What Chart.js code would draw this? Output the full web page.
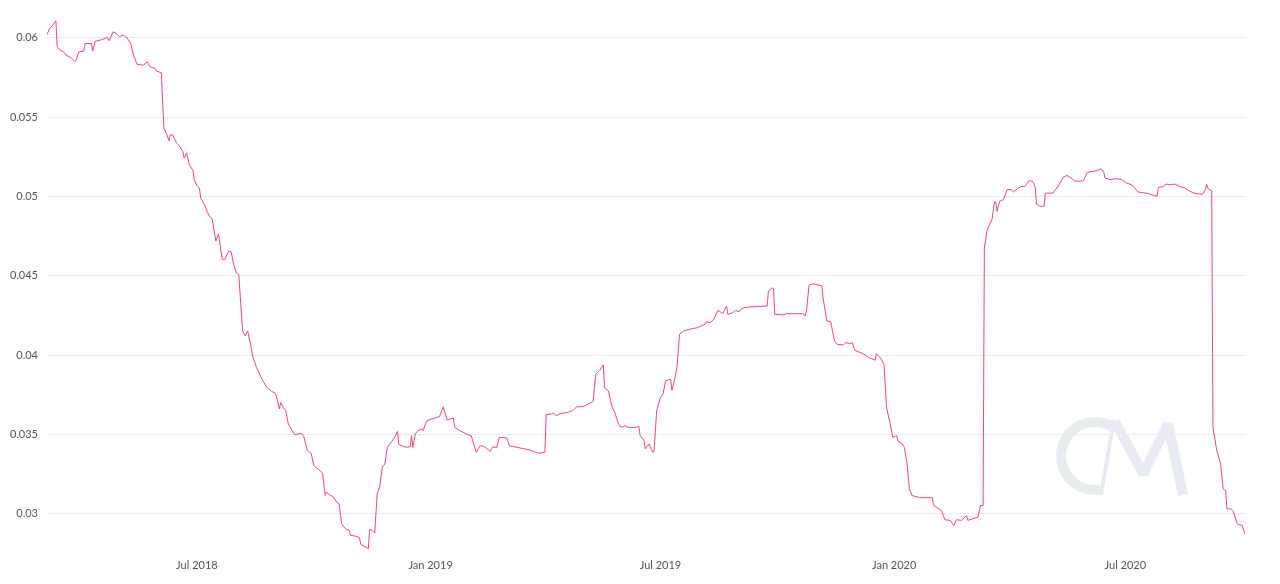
<!DOCTYPE html>
<html>
<head>
<meta charset="utf-8">
<script src="https://cdn.jsdelivr.net/npm/chart.js@4.4.1/dist/chart.umd.min.js"></script>
<style>
  html, body { margin: 0; padding: 0; background: #fff; }
  #wrap { width: 1280px; height: 584px; }
</style>
</head>
<body>
<div id="wrap"><canvas id="grafico" width="1280" height="584"></canvas></div>
<script>
// days counted from START_DATE
const START_DATE = "2018-03-05";
const dayOffsets = [
  0, 2, 4, 7, 8, 10, 13, 15, 19, 22, 23, 25, 29, 30, 35, 36, 38, 42, 46, 47,
  49, 52, 55, 57, 60, 63, 66, 68, 71, 76, 79, 81, 85, 86, 90, 92, 94, 96, 97, 99,
  102, 104, 107, 108, 110, 112, 115, 116, 118, 120, 121, 124, 126, 128, 130, 133, 135, 138, 140, 143,
  145, 147, 149, 151, 154, 156, 158, 160, 162, 165, 168, 170, 173, 177, 180, 183, 184, 186, 188, 190,
  193, 195, 200, 202, 205, 208, 210, 214, 217, 219, 220, 223, 225, 228, 230, 232, 235, 238, 239, 244,
  246, 247, 253, 254, 256, 258, 260, 262, 264, 266, 268, 271, 274, 276, 277, 281, 283, 286, 287, 288,
  290, 292, 295, 296, 299, 303, 309, 312, 315, 320, 321, 325, 330, 334, 338, 341, 344, 349, 351, 354,
  356, 362, 364, 370, 380, 387, 392, 393, 399, 401, 404, 409, 414, 417, 422, 426, 430, 432, 435, 438,
  439, 442, 445, 447, 450, 452, 455, 458, 462, 466, 467, 470, 471, 474, 477, 478, 480, 483, 485, 487,
  489, 491, 492, 494, 496, 498, 501, 506, 512, 515, 518, 519, 522, 525, 528, 530, 532, 535, 536, 540,
  542, 545, 547, 553, 567, 568, 571, 572, 573, 580, 582, 588, 595, 597, 598, 600, 603, 610, 611, 614,
  617, 620, 622, 627, 629, 632, 634, 636, 643, 648, 652, 653, 656, 659, 661, 663, 666, 669, 670, 673,
  675, 677, 679, 681, 687, 697, 698, 702, 704, 707, 711, 714, 716, 720, 724, 725, 729, 733, 735, 737,
  738, 740, 742, 744, 746, 747, 748, 750, 753, 756, 759, 761, 764, 767, 770, 773, 776, 778, 779, 782,
  785, 786, 792, 794, 796, 800, 803, 807, 809, 812, 816, 819, 824, 828, 830, 832, 833, 837, 842, 846,
  850, 854, 859, 866, 874, 875, 879, 881, 884, 888, 892, 896, 899, 903, 907, 910, 912, 913, 914, 917,
  918, 921, 924, 926, 928, 929, 932, 934, 937, 941, 943
];
const values = [
  0.06021, 0.06058, 0.06075, 0.06107, 0.05943, 0.05923, 0.05912, 0.05891, 0.05874, 0.05849, 0.0586, 0.05912, 0.05916, 0.05964, 0.05964, 0.05916, 0.05979, 0.05986, 0.05996, 0.06006,
  0.05981, 0.06038, 0.06025, 0.06008, 0.06017, 0.06, 0.05962, 0.05891, 0.05832, 0.05828, 0.05849, 0.05818, 0.05807, 0.05791, 0.0578, 0.0543, 0.05398, 0.05351, 0.05388, 0.05388,
  0.05336, 0.05321, 0.05283, 0.05241, 0.05273, 0.052, 0.05162, 0.05106, 0.0507, 0.05053, 0.0499, 0.04948, 0.04906, 0.04874, 0.0486, 0.04718, 0.04764, 0.04603, 0.04603, 0.04655,
  0.04651, 0.04571, 0.04519, 0.04508, 0.04152, 0.04121, 0.04152, 0.04079, 0.03989, 0.03921, 0.03869, 0.03838, 0.03796, 0.03771, 0.03758, 0.0366, 0.03701, 0.0367, 0.03649, 0.03566,
  0.03524, 0.03498, 0.03507, 0.03492, 0.03398, 0.03381, 0.03304, 0.03277, 0.03256, 0.03116, 0.03136, 0.03116, 0.03109, 0.03073, 0.03063, 0.02937, 0.02906, 0.02895, 0.02864, 0.02857,
  0.02849, 0.02807, 0.0278, 0.029, 0.02895, 0.02878, 0.03126, 0.03172, 0.03293, 0.03314, 0.03419, 0.0345, 0.03486, 0.03519, 0.03436, 0.03423, 0.03419, 0.03423, 0.03492, 0.03419,
  0.03503, 0.03524, 0.03534, 0.03524, 0.03586, 0.03597, 0.03612, 0.03674, 0.03591, 0.03603, 0.03544, 0.03524, 0.03503, 0.03492, 0.03387, 0.03429, 0.03425, 0.03393, 0.03423, 0.03415,
  0.03481, 0.03478, 0.03427, 0.03419, 0.03402, 0.03381, 0.03387, 0.03624, 0.03632, 0.03618, 0.03632, 0.03637, 0.03649, 0.03674, 0.03674, 0.03691, 0.03708, 0.0388, 0.03901, 0.03938,
  0.03792, 0.03775, 0.0367, 0.03639, 0.03566, 0.03544, 0.03555, 0.03544, 0.03544, 0.03549, 0.03492, 0.03461, 0.03408, 0.0344, 0.03387, 0.03398, 0.03649, 0.03733, 0.03754, 0.03838,
  0.03842, 0.03848, 0.03778, 0.0384, 0.03921, 0.04131, 0.04152, 0.04163, 0.04173, 0.04184, 0.04194, 0.04211, 0.04204, 0.04226, 0.04282, 0.04273, 0.04261, 0.04309, 0.04257, 0.04267,
  0.04282, 0.04273, 0.04295, 0.04303, 0.04309, 0.04404, 0.04424, 0.0442, 0.04257, 0.04253, 0.04261, 0.04261, 0.04261, 0.04246, 0.04282, 0.04441, 0.04449, 0.04437, 0.04361, 0.04215,
  0.04211, 0.04089, 0.04068, 0.04064, 0.04079, 0.04072, 0.04079, 0.04031, 0.04006, 0.03981, 0.03968, 0.04009, 0.03984, 0.03943, 0.0367, 0.03597, 0.03481, 0.03492, 0.03456, 0.03444,
  0.03419, 0.03324, 0.03157, 0.03115, 0.03101, 0.03101, 0.03052, 0.03031, 0.03021, 0.02962, 0.02958, 0.02926, 0.02962, 0.02958, 0.02989, 0.02958, 0.02969, 0.02979, 0.03052, 0.03052,
  0.04676, 0.04781, 0.04823, 0.04854, 0.04965, 0.04965, 0.04906, 0.04969, 0.0498, 0.05043, 0.05043, 0.05028, 0.05049, 0.05063, 0.05063, 0.05099, 0.05095, 0.05063, 0.04952, 0.04938,
  0.04938, 0.05021, 0.05021, 0.05043, 0.05063, 0.0512, 0.05133, 0.05112, 0.05099, 0.05095, 0.05099, 0.05153, 0.05158, 0.05168, 0.05175, 0.05153, 0.05116, 0.05106, 0.05112, 0.05106,
  0.05084, 0.05074, 0.05028, 0.0502, 0.05001, 0.05057, 0.05063, 0.05078, 0.05074, 0.05078, 0.05063, 0.05053, 0.05036, 0.05021, 0.05015, 0.05015, 0.05043, 0.05078, 0.05049, 0.05036,
  0.03544, 0.03398, 0.03314, 0.03157, 0.03147, 0.03031, 0.03031, 0.03016, 0.02937, 0.02926, 0.02874
];
const xTickDates = ["2018-07-01", "2019-01-01", "2019-07-01", "2020-01-01", "2020-07-01"];
const xTickLabels = ["Jul 2018", "Jan 2019", "Jul 2019", "Jan 2020", "Jul 2020"];
const yTicks = [0.03, 0.035, 0.04, 0.045, 0.05, 0.055, 0.06];
const yTickLabels = ["0.03", "0.035", "0.04", "0.045", "0.05", "0.055", "0.06"];

const DAY = 86400000;
const start = Date.parse(START_DATE);
const xTickDays = xTickDates.map(d => Math.round((Date.parse(d) - start) / DAY));

// faint "CM" mark behind the line
const marcaAgua = {
  id: "marcaAgua",
  beforeDatasetsDraw(chart) {
    const c = chart.ctx;
    c.save();
    c.strokeStyle = "#e9ebf4";
    c.lineWidth = 10;
    c.beginPath();
    c.arc(1095, 456, 34, Math.PI * 0.45, Math.PI * 1.68);
    c.stroke();
    c.lineWidth = 4;
    c.beginPath();
    c.moveTo(1101, 495);
    c.lineTo(1114, 420);
    c.stroke();
    c.lineWidth = 10;
    c.lineJoin = "bevel";
    c.beginPath();
    c.moveTo(1115, 421);
    c.lineTo(1143, 474);
    c.lineTo(1168, 424);
    c.lineTo(1183, 495);
    c.stroke();
    c.restore();
  }
};

const fuente = { family: "Lato", size: 11 };

new Chart(document.getElementById("grafico").getContext("2d"), {
  type: "line",
  data: {
    datasets: [{
      data: dayOffsets.map((d, i) => ({ x: d, y: values[i] })),
      borderColor: "#e94b6e",
      borderWidth: 1,
      pointRadius: 0,
      tension: 0,
      fill: false
    }]
  },
  options: {
    responsive: false,
    animation: false,
    layout: { padding: { left: 0, right: 34, top: 13, bottom: 5 } },
    plugins: {
      legend: { display: false },
      tooltip: { enabled: false }
    },
    scales: {
      x: {
        type: "linear",
        min: 0,
        max: 944,
        grid: { display: false, drawTicks: false },
        border: { display: false },
        afterBuildTicks: s => { s.ticks = xTickDays.map(v => ({ value: v })); },
        ticks: {
          autoSkip: false,
          maxRotation: 0,
          padding: 7,
          color: "#555",
          font: fuente,
          callback: (v, i) => xTickLabels[i]
        }
      },
      y: {
        min: 0.0276,
        max: 0.0614,
        afterFit: s => { s.width = 47; },
        afterBuildTicks: s => { s.ticks = yTicks.map(v => ({ value: v })); },
        grid: { color: "#ebebeb", drawTicks: false },
        border: { display: false },
        ticks: {
          padding: 9,
          color: "#555",
          font: fuente,
          callback: (v, i) => yTickLabels[i]
        }
      }
    }
  },
  plugins: [marcaAgua]
});
</script>
</body>
</html>
